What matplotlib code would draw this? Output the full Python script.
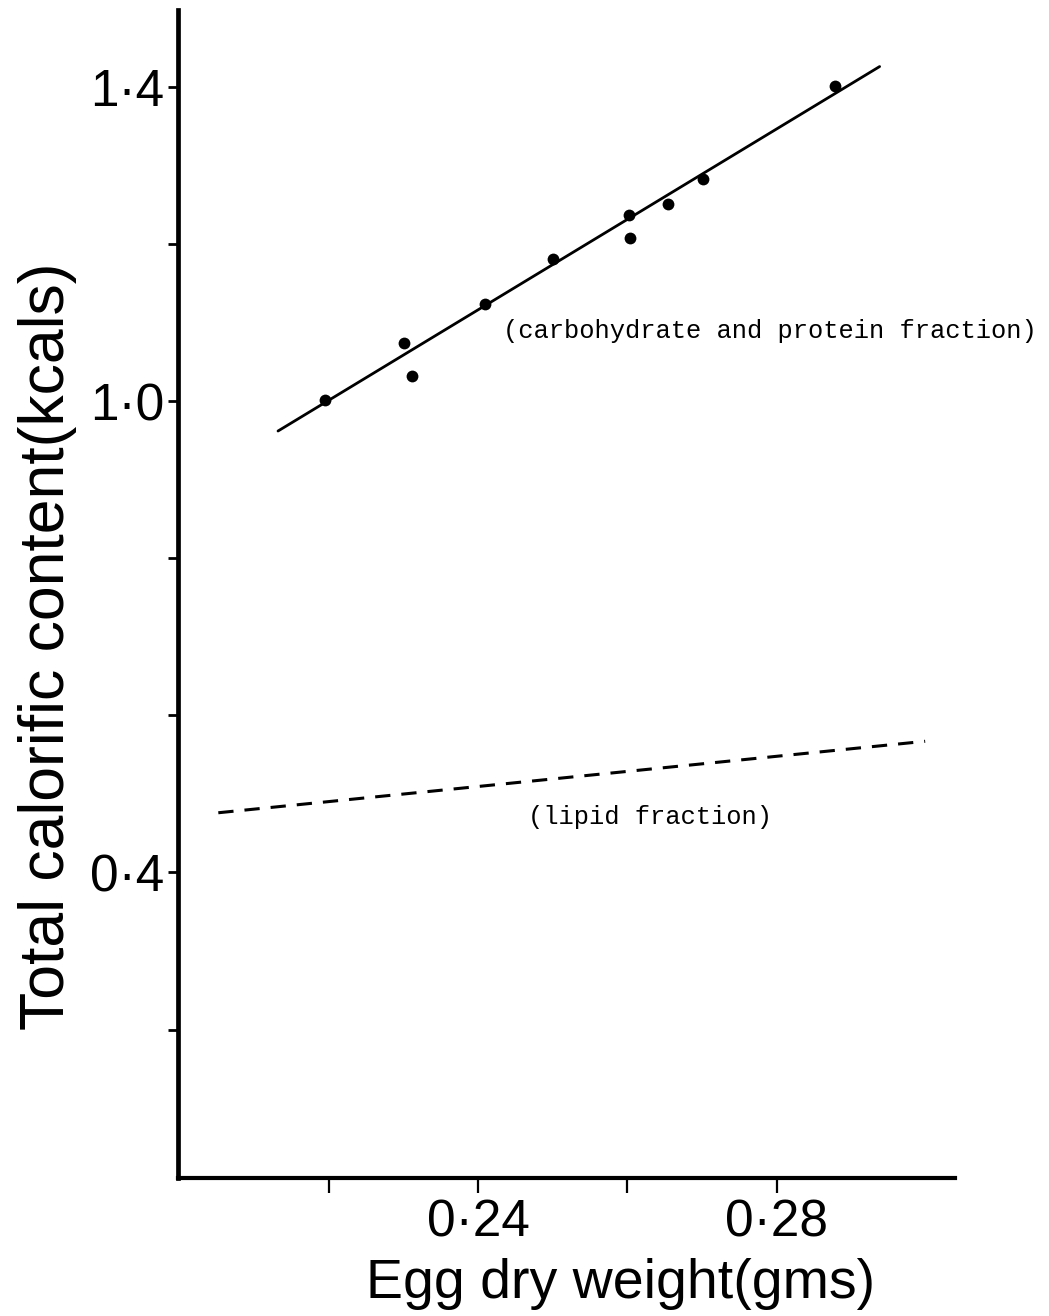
import matplotlib
matplotlib.use("Agg")
import matplotlib.pyplot as plt

# Egg dry weight (g) and calorific content (kcal), carbohydrate + protein fraction
egg_weight = [0.2195, 0.2301, 0.2312, 0.2409, 0.2500, 0.2602, 0.2603, 0.2654, 0.2702, 0.2878]
kcal_cp = [1.002, 1.074, 1.032, 1.124, 1.181, 1.237, 1.208, 1.251, 1.283, 1.401]

# Fitted regression line for carbohydrate + protein fraction (end points)
fit_cp_x = [0.2132, 0.2938]
fit_cp_y = [0.962, 1.426]

# Fitted line for lipid fraction (end points)
fit_lipid_x = [0.2052, 0.2999]
fit_lipid_y = [0.476, 0.567]

x_ticks = [0.22, 0.24, 0.26, 0.28]
x_tick_labels = ["", "0\u00b724", "", "0\u00b728"]
y_ticks = [0.2, 0.4, 0.6, 0.8, 1.0, 1.2, 1.4]
y_tick_labels = ["", "0\u00b74", "", "", "1\u00b70", "", "1\u00b74"]

label_cp = "(carbohydrate and protein fraction)"
label_lipid = "(lipid fraction)"
x_title = "Egg dry weight(gms)"
y_title = "Total calorific content(kcals)"

hand = ["Liberation Sans", "DejaVu Sans"]
hand_narrow = ["Liberation Sans Narrow", "Liberation Sans", "DejaVu Sans"]
typewriter = ["Liberation Mono", "DejaVu Sans Mono"]

fig = plt.figure(figsize=(10.49, 13.16), dpi=100)
ax = fig.add_axes([0.16969, 0.10486, 0.74071, 0.88754])

ax.plot(fit_cp_x, fit_cp_y, color="black", lw=2.0, solid_capstyle="round")
ax.plot(egg_weight, kcal_cp, "o", color="black", ms=8.5, mew=0)
ax.plot(fit_lipid_x, fit_lipid_y, color="black", lw=2.2, dashes=(5.0, 3.6))

ax.set_xlim(0.1998, 0.3039)
ax.set_ylim(0.011, 1.498)

for side in ("top", "right"):
    ax.spines[side].set_visible(False)
ax.spines["left"].set_linewidth(3.4)
ax.spines["bottom"].set_linewidth(3.0)

ax.set_xticks(x_ticks)
ax.set_xticklabels(x_tick_labels, fontfamily=hand_narrow, fontsize=37)
ax.set_yticks(y_ticks)
ax.set_yticklabels(y_tick_labels, fontfamily=hand_narrow, fontsize=37)
ax.tick_params(axis="x", direction="out", length=11, width=1.6, pad=4)
ax.tick_params(axis="y", direction="out", length=7, width=2.0, pad=3)

ax.text(0.2791, 1.089, label_cp, fontfamily=typewriter, fontsize=18.4,
        ha="center", va="center")
ax.text(0.2631, 0.4706, label_lipid, fontfamily=typewriter, fontsize=18.4,
        ha="center", va="center")

fig.text(621 / 1049, 1 - 1284 / 1316, x_title, fontfamily=hand, fontsize=40,
         ha="center", va="center")
fig.text(48 / 1049, 1 - 646 / 1316, y_title, fontfamily=hand, fontsize=45,
         rotation=90, ha="center", va="center")

fig.savefig("out.png", dpi=100, facecolor="white")
